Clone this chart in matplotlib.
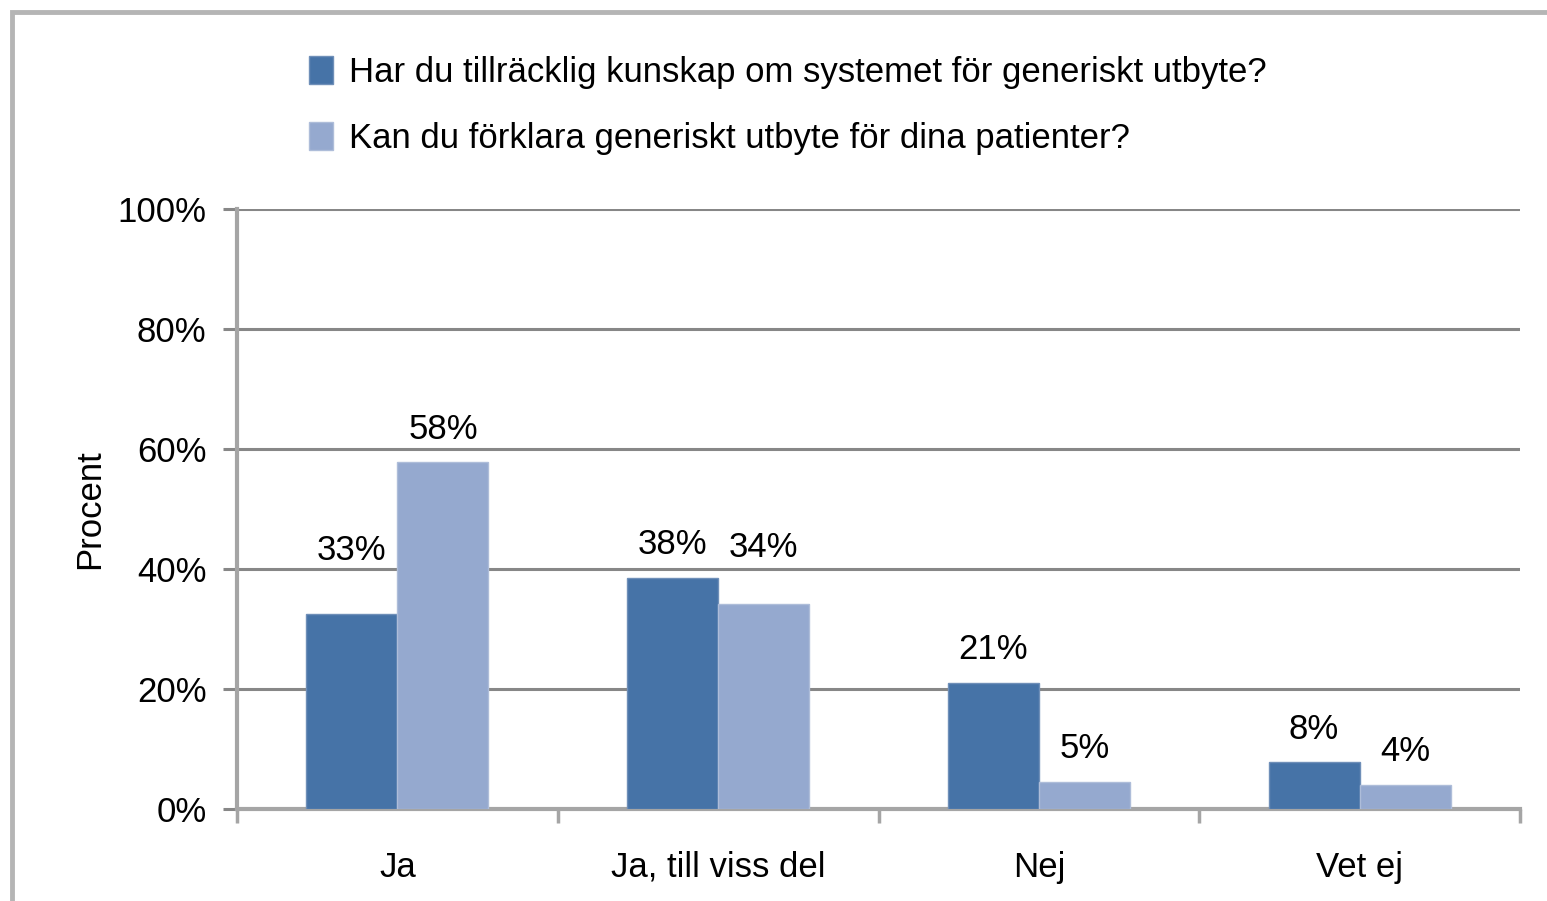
import matplotlib
matplotlib.use("Agg")
import matplotlib.pyplot as plt
import numpy as np
from matplotlib.patches import Rectangle

categories = ["Ja", "Ja, till viss del", "Nej", "Vet ej"]
series_names = ["Har du tillräcklig kunskap om systemet för generiskt utbyte?",
                "Kan du förklara generiskt utbyte för dina patienter?"]
kunskap = [32.5, 38.5, 21.0, 7.8]
forklara = [57.8, 34.2, 4.5, 4.0]
kunskap_labels = ["33%", "38%", "21%", "8%"]
forklara_labels = ["58%", "34%", "5%", "4%"]
yticks = [0, 20, 40, 60, 80, 100]
ytick_labels = ["0%", "20%", "40%", "60%", "80%", "100%"]

plt.rcParams['font.family'] = ['Liberation Sans', 'DejaVu Sans']
W, H = 1547, 901
fig = plt.figure(figsize=(W/100, H/100), dpi=100)

# outer chart frame
fig.patches.append(Rectangle((12/W, -0.1), 2.0, 1.0 - 12/H + 0.1, transform=fig.transFigure,
                             fill=False, edgecolor='#b5b5b5', linewidth=3.5))

ax = fig.add_axes([237/W, 1 - 809/H, (1520-237)/W, (809-209)/H])
dark = '#4673a7'
light = '#95a9cf'
bw = 0.284
x = np.arange(len(categories))
b1 = ax.bar(x - bw/2, kunskap, bw, color=dark, edgecolor='#6f8fb8', linewidth=1.0, zorder=3,
            label=series_names[0])
b2 = ax.bar(x + bw/2, forklara, bw, color=light, edgecolor='#aebdd9', linewidth=1.0, zorder=3,
            label=series_names[1])

fs = 25
base_off = 12
# a few labels were lifted in the original to avoid collisions
lift_k = {0: 22}
lift_f = {1: 16.5}
for i, (v, lab) in enumerate(zip(kunskap, kunskap_labels)):
    ax.annotate(lab, (x[i] - bw/2, v), xytext=(0, base_off + lift_k.get(i, 0)),
                textcoords='offset points', ha='center', va='bottom', fontsize=fs)
for i, (v, lab) in enumerate(zip(forklara, forklara_labels)):
    ax.annotate(lab, (x[i] + bw/2, v), xytext=(0, base_off + lift_f.get(i, 0)),
                textcoords='offset points', ha='center', va='bottom', fontsize=fs)

ax.set_xlim(-0.5, 3.5)
ax.set_ylim(0, 100)
ax.set_yticks(yticks)
ax.set_yticklabels(ytick_labels, fontsize=fs)
ax.yaxis.grid(True, color='#878787', linewidth=2.2, zorder=0)
ax.set_axisbelow(True)
ax.set_xticks(np.arange(-0.5, 4.0, 1.0))
ax.set_xticklabels([])
ax.set_xticks(x, minor=True)
ax.set_xticklabels(categories, minor=True, fontsize=fs)
ax.tick_params(axis='x', which='major', length=10, width=2.5, color='#a5a5a5', direction='out')
ax.tick_params(axis='x', which='minor', length=0, pad=30)
ax.tick_params(axis='y', length=10, width=2.2, color='#878787', pad=12)
for s in ['top', 'right']:
    ax.spines[s].set_visible(False)
ax.spines['left'].set_color('#a5a5a5')
ax.spines['left'].set_linewidth(3)
ax.spines['bottom'].set_color('#a5a5a5')
ax.spines['bottom'].set_linewidth(3)
ax.set_ylabel("Procent", fontsize=fs, labelpad=8)

fig.legend(handles=[b1, b2], loc='upper left', bbox_to_anchor=(295/W, 1 - 42/H),
           frameon=False, fontsize=fs, handlelength=0.7, handleheight=0.85,
           handletextpad=0.45, labelspacing=0.95, borderaxespad=0)

fig.savefig("out.png", dpi=100)
